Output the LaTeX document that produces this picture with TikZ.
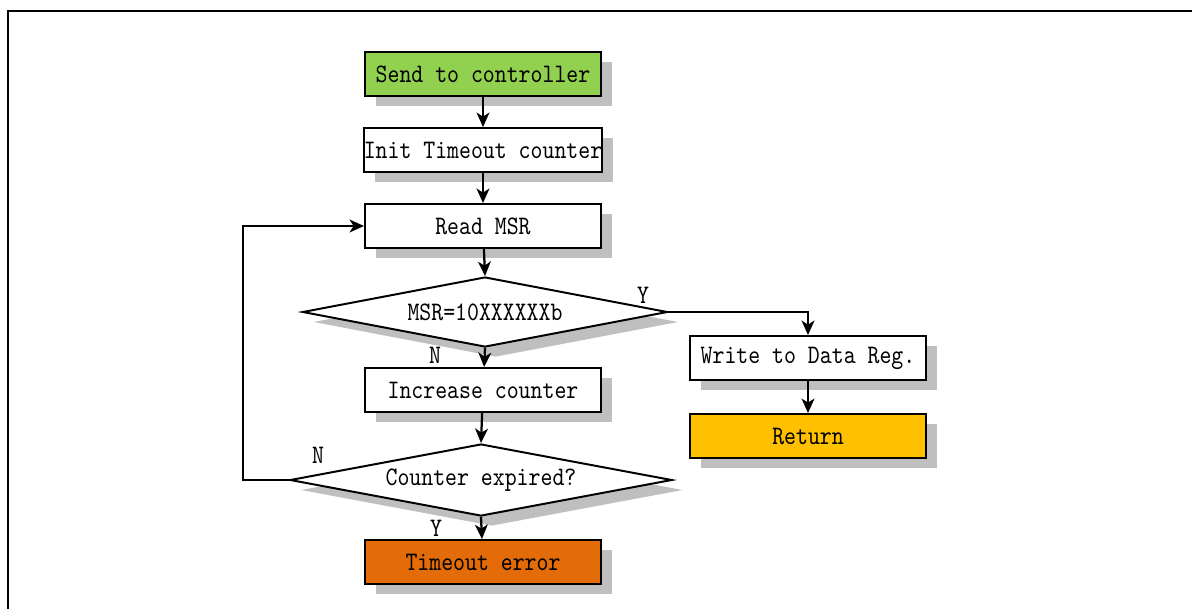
\documentclass[tikz,border=0pt]{standalone}
\usepackage{fontspec}
\newfontfamily\flowfont{lmmono10-regular.otf}[FakeStretch=0.85]
\usepackage{tikz}
\usetikzlibrary{arrows.meta, positioning, shapes.geometric, shadows}

\begin{document}
\begin{tikzpicture}[
    procblock/.style={rectangle, draw, line width=1.4pt, fill=white, minimum width=5.9cm, minimum height=1.1cm, inner sep=0pt, font=\flowfont\fontsize{19}{22}\selectfont, align=center, drop shadow={shadow xshift=0.27cm, shadow yshift=-0.25cm, fill=black!25, opacity=1}},
    testblock/.style={diamond, draw, line width=1.4pt, fill=white, inner sep=0pt, shape aspect=5, font=\flowfont\fontsize{19}{22}\selectfont, align=center, drop shadow={shadow xshift=0.27cm, shadow yshift=-0.25cm, fill=black!25, opacity=1}},
    answer/.style={font=\flowfont\fontsize{19}{22}\selectfont},
    arrow/.style={-{Stealth[length=3.6mm, width=3.2mm, inset=1mm]}, line width=1.6pt}
]
\useasboundingbox (0,0) rectangle (29.8,-15.2);

% outer frame
\draw[line width=2pt] (0.2,-15.5) -- (0.2,-0.275) -- (30.2,-0.275);

% main column
\node[procblock, fill={rgb,255:red,146;green,208;blue,80}] (send) at (12.075,-1.85) {Send to controller};
\node[procblock] (init) at (12.075,-3.75) {Init Timeout counter};
\node[procblock] (read) at (12.075,-5.65) {Read MSR};
\node[testblock, minimum width=9.125cm, minimum height=1.75cm] (msr) at (12.125,-7.8) {MSR=10XXXXXXb};
\node[procblock] (inc) at (12.075,-9.75) {Increase counter};
\node[testblock, minimum width=9.55cm, minimum height=1.8cm] (expired) at (12.025,-12.0) {Counter expired?};
\node[procblock, fill={rgb,255:red,227;green,108;blue,9}] (timeout) at (12.075,-14.05) {Timeout error};

% right column
\node[procblock] (write) at (20.2,-8.95) {Write to Data Reg.};
\node[procblock, fill={rgb,255:red,255;green,192;blue,0}] (ret) at (20.2,-10.9) {Return};

\coordinate (loop) at (6.075,-12.0);

% arrows
\draw[arrow] (send) -- (init);
\draw[arrow] (init) -- (read);
\draw[arrow] (read) -- (msr.north);
\draw[arrow] (msr.south) -- (inc);
\draw[arrow] (inc) -- (expired.north);
\draw[arrow] (expired.south) -- (timeout);
\draw[arrow] (msr.east) -| (write.north);
\draw[arrow] (write) -- (ret);
\draw[arrow] (expired.west) -- (loop) |- (read.west);

% answers
\node[answer] (msryes) at (16.075,-7.375) {Y};
\node[answer] (msrno) at (10.875,-8.875) {N};
\node[answer] (expno) at (7.95,-11.375) {N};
\node[answer] (expyes) at (10.9,-13.2) {Y};

\end{tikzpicture}
\end{document}
